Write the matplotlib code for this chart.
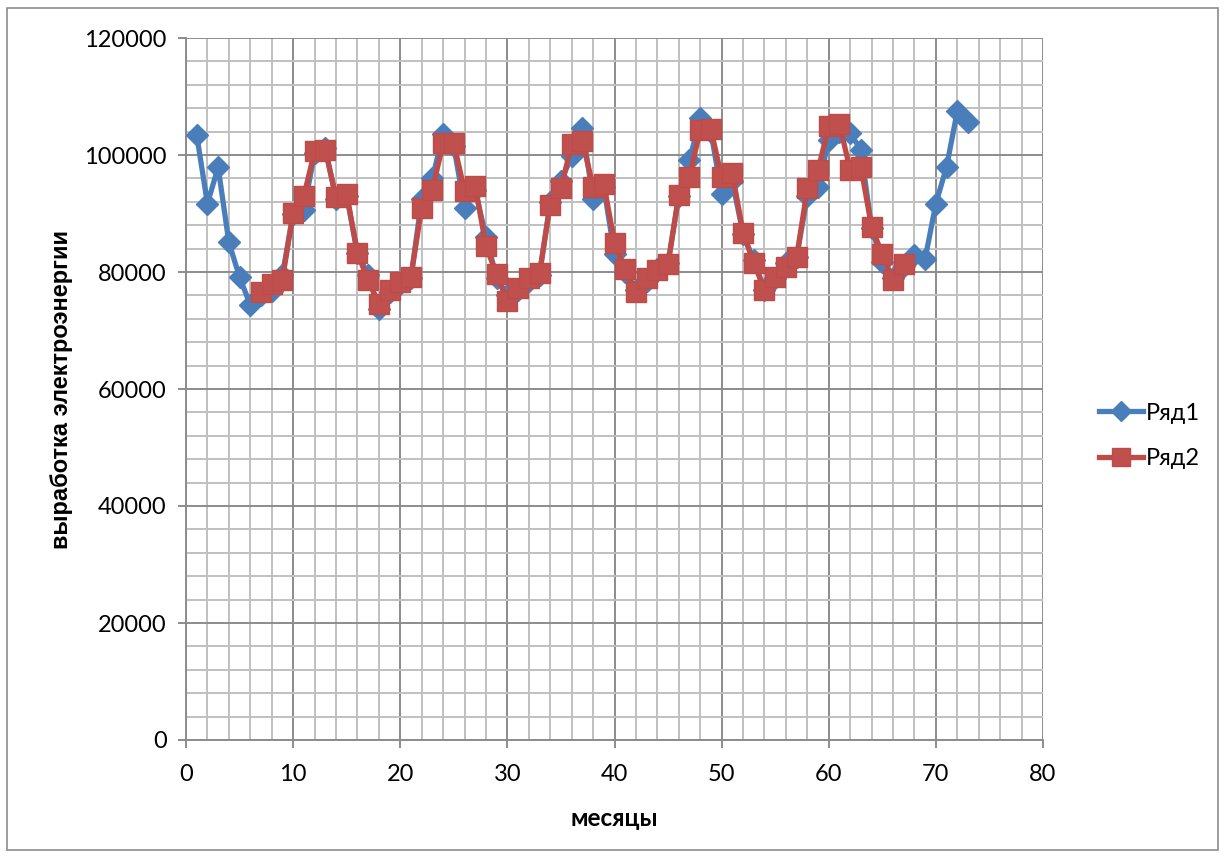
import matplotlib
matplotlib.use("Agg")
import matplotlib.pyplot as plt
from matplotlib.patches import Rectangle
from matplotlib.ticker import MultipleLocator

months1 = list(range(1, 74))
series1 = [103400, 91700, 97900, 85100, 79100, 74400, 76000, 76800, 79500, 90000,
           90600, 100300, 101200, 92500, 93000, 83200, 79500, 73600, 76500, 78000,
           79000, 92500, 96000, 103600, 101500, 91000, 94000, 86000, 79000, 76000,
           77000, 78500, 79500, 92000, 95500, 99800, 104600, 92500, 94500, 83000,
           80000, 77000, 78500, 80500, 81500, 93000, 99100, 106300, 104000, 93300,
           95500, 86500, 82000, 77000, 79000, 81500, 82500, 93000, 94600, 102500,
           104000, 103700, 100900, 87500, 81700, 79000, 81000, 82900, 82300, 91700,
           98000, 107500, 105700]

months2 = list(range(7, 68))
series2 = [76600, 78000, 78700, 90100, 93000, 100600, 100900, 92800, 93400, 83200,
           78600, 74600, 76900, 78300, 79200, 91000, 94100, 102000, 102000, 93900,
           94700, 84400, 79600, 75000, 77200, 78900, 79800, 91500, 94300, 101900,
           102400, 94600, 95100, 85000, 80500, 76600, 78900, 80300, 81400, 93200,
           96300, 104300, 104400, 96200, 96900, 86700, 81600, 76900, 79100, 80900,
           82500, 94300, 97400, 105000, 105300, 97400, 97900, 87700, 83000, 78700,
           81400]

labels = ["Ряд1", "Ряд2"]
xlabel = "месяцы"
ylabel = "выработка электроэнергии"

plt.rcParams['font.family'] = ['Lato', 'DejaVu Sans']

fig = plt.figure(figsize=(12.25, 8.56), dpi=100)
ax = fig.add_axes([186/1225, 1-740/856, (1043-186)/1225, (740-38)/856])

blue = "#4A7EBB"
red = "#BE4B48"

ax.plot(months1, series1, color=blue, lw=3.8, marker='D', markersize=11,
        markerfacecolor=blue, markeredgecolor=blue, label=labels[0], zorder=3)
ax.plot(months2, series2, color=red, lw=3.8, marker='s', markersize=14,
        markerfacecolor="#C0504D", markeredgecolor=red, label=labels[1], zorder=4)

ax.set_xlim(0, 80)
ax.set_ylim(0, 120000)
ax.xaxis.set_major_locator(MultipleLocator(10))
ax.xaxis.set_minor_locator(MultipleLocator(2))
ax.yaxis.set_major_locator(MultipleLocator(20000))
ax.yaxis.set_minor_locator(MultipleLocator(4000))
ax.grid(which='major', color='#8C8C8C', lw=1.4, zorder=0)
ax.grid(which='minor', color='#C0C0C0', lw=1.4, zorder=0)
ax.set_axisbelow(True)
for s in ['top', 'right']:
    ax.spines[s].set_visible(False)
for s in ['left', 'bottom']:
    ax.spines[s].set_color('#8C8C8C')
    ax.spines[s].set_linewidth(1.4)
ax.tick_params(which='major', direction='out', length=6, width=1.4, color='#8C8C8C',
               labelsize=17, pad=8)
ax.tick_params(which='minor', length=0)
ax.tick_params(axis='x', pad=11)

ax.set_xlabel(xlabel, fontsize=17.5, fontweight='bold', labelpad=16)
ax.set_ylabel(ylabel, fontsize=17, fontweight='bold', labelpad=8,
              family=['Liberation Sans', 'DejaVu Sans'])

leg = ax.legend(loc='center left', bbox_to_anchor=(1.04, 0.433), frameon=False,
                fontsize=17, handlelength=1.9, labelspacing=1.05, handletextpad=0.1,
                markerscale=0.9)

fig.patches.append(Rectangle((7/1225, 1-850/856), (1218-7)/1225, (850-8)/856,
                             transform=fig.transFigure, fill=False,
                             edgecolor='#8C8C8C', lw=1.2))

fig.savefig("out.png", dpi=100)
